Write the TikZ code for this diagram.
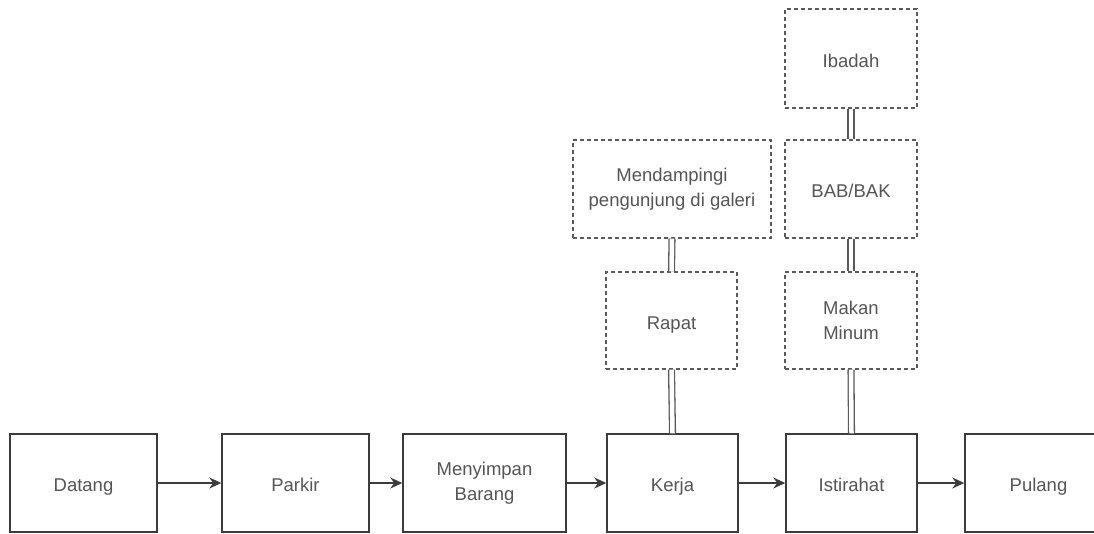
\documentclass[tikz,border=0pt]{standalone}
\usepackage{fontspec}
\setmainfont{Liberation Sans}
\usetikzlibrary{arrows.meta}
\definecolor{txt}{HTML}{555555}
\definecolor{edge}{HTML}{3C3C3C}
\definecolor{dash}{HTML}{5A5A5A}
\begin{document}
\begin{tikzpicture}[x=1pt,y=-1pt,
  base/.style={rectangle,inner sep=0pt,align=center,text=txt,
    font=\fontsize{18.5}{24.5}\selectfont},
  one/.style={text height=17.5pt,text depth=0pt},
  two/.style={yshift=-2pt},
  solidbox/.style={base,draw=edge,line width=1.4pt},
  dashbox/.style={base,draw=dash,line width=1.2pt,dash pattern=on 4pt off 3pt},
  flow/.style={draw=edge,line width=1.4pt,-{Stealth[length=12pt,width=11pt]}},
  link/.style={draw=gray!70!black,line width=1.3pt,double=white,double distance=4.5pt}]
\useasboundingbox (0,0) rectangle (1094,533);
\clip (0,0) rectangle (1094,533);
% main row
\node[solidbox,one,minimum width=147pt,minimum height=98pt] (datang) at (83.5,483) {Datang};
\node[solidbox,one,minimum width=147pt,minimum height=98pt] (parkir) at (295.5,483) {Parkir};
\node[solidbox,minimum width=163pt,minimum height=98pt] (simpan) at (484.5,483) {Menyimpan\\Barang};
\node[solidbox,one,minimum width=131pt,minimum height=98pt] (kerja) at (672.5,483) {Kerja};
\node[solidbox,one,minimum width=131pt,minimum height=98pt] (istirahat) at (851.5,483) {Istirahat};
\node[solidbox,one,minimum width=147pt,minimum height=98pt] (pulang) at (1038.5,483) {Pulang};
% upper dashed boxes
\node[dashbox,one,minimum width=131pt,minimum height=97pt] (rapat) at (671.5,320.5) {Rapat};
\node[dashbox,minimum width=198pt,minimum height=98pt] (dampingi) at (672,189) {Mendampingi\\pengunjung di galeri};
\node[dashbox,minimum width=132pt,minimum height=97pt] (makan) at (851,320.5) {Makan\\Minum};
\node[dashbox,one,minimum width=132pt,minimum height=98pt] (bab) at (851,189) {BAB/BAK};
\node[dashbox,one,minimum width=132pt,minimum height=99pt] (ibadah) at (851,58.5) {Ibadah};
% flow arrows
\draw[flow] (datang) -- (parkir);
\draw[flow] (parkir) -- (simpan);
\draw[flow] (simpan) -- (kerja);
\draw[flow] (kerja) -- (istirahat);
\draw[flow] (istirahat) -- (pulang);
% double links
\draw[link] (kerja.north) -- (rapat.south);
\draw[link] (rapat.north) -- (dampingi.south);
\draw[link] (istirahat.north) -- (makan.south);
\draw[link] (makan.north) -- (bab.south);
\draw[link] (bab.north) -- (ibadah.south);
\end{tikzpicture}
\end{document}
